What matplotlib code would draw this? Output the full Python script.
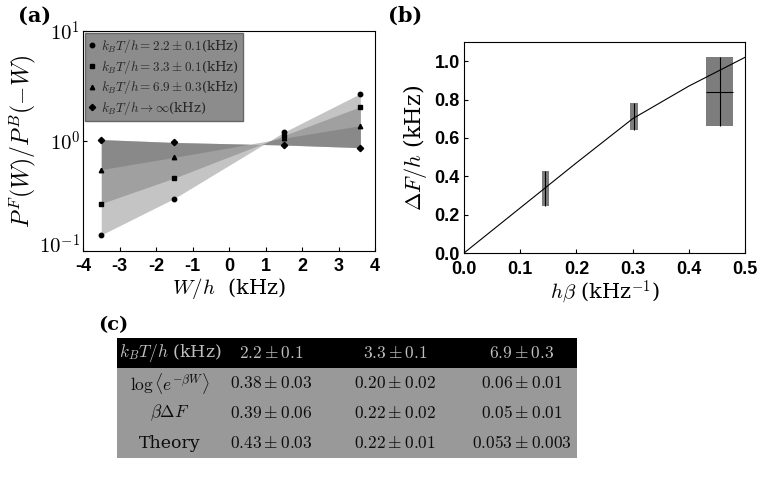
import matplotlib
matplotlib.use("Agg")
import matplotlib.pyplot as plt
import matplotlib.transforms as mtransforms
import numpy as np

plt.rcParams['mathtext.fontset'] = 'cm'
plt.rcParams['font.family'] = ['DejaVu Serif']

# ---------------- data: panel (a) ----------------
W = [-3.5, -1.5, 1.5, 3.6]
r_22 = [0.14, 0.30, 1.20, 2.70]
r_33 = [0.27, 0.46, 1.12, 2.05]
r_69 = [0.55, 0.71, 1.06, 1.38]
r_inf = [1.03, 0.97, 0.92, 0.87]
legend_labels = [r"$k_BT/h = 2.2 \pm 0.1$(kHz)",
                 r"$k_BT/h = 3.3 \pm 0.1$(kHz)",
                 r"$k_BT/h = 6.9 \pm 0.3$(kHz)",
                 r"$k_BT/h \to \infty$(kHz)"]
a_xticks = [-4, -3, -2, -1, 0, 1, 2, 3, 4]

# ---------------- data: panel (b) ----------------
hbeta = [0.145, 0.303, 0.455]
dF = [0.335, 0.71, 0.84]
dF_err = [0.09, 0.07, 0.18]
hbeta_err = [0.007, 0.007, 0.024]
theory_hbeta = [0.0, 0.1, 0.2, 0.3, 0.4, 0.5]
theory_dF = [0.0, 0.235, 0.47, 0.70, 0.87, 1.02]
b_xticks = [0.0, 0.1, 0.2, 0.3, 0.4, 0.5]
b_yticks = [0.0, 0.2, 0.4, 0.6, 0.8, 1.0]

# ---------------- data: table (c) ----------------
header = [r"$k_BT/h$ (kHz)", r"$2.2 \pm 0.1$", r"$3.3 \pm 0.1$", r"$6.9 \pm 0.3$"]
rows = [[r"$\log\langle e^{-\beta W}\rangle$", r"$0.38 \pm 0.03$", r"$0.20 \pm 0.02$", r"$0.06 \pm 0.01$"],
        [r"$\beta\Delta F$", r"$0.39 \pm 0.06$", r"$0.22 \pm 0.02$", r"$0.05 \pm 0.01$"],
        [r"Theory", r"$0.43 \pm 0.03$", r"$0.22 \pm 0.01$", r"$0.053 \pm 0.003$"]]

W_PX, H_PX = 765, 488
fig = plt.figure(figsize=(W_PX / 100, H_PX / 100), dpi=100)

def box(l, t, r, b):
    return [l / W_PX, 1 - b / H_PX, (r - l) / W_PX, (b - t) / H_PX]

tickfont = dict(family='Liberation Sans', weight='bold', size=13)

# ---------------- panel (a) ----------------
ax = fig.add_axes(box(83, 31, 375, 251))
ax.set_yscale('log')
series = [r_22, r_33, r_69]
for s in series:
    ax.fill_between(W, s, r_inf, color='0.4', alpha=0.38, lw=0)
markers = ['o', 's', '^', 'D']
handles = []
for s, m, lab in zip(series + [r_inf], markers, legend_labels):
    h, = ax.plot(W, s, ls='none', marker=m, ms=3.2, color='k', label=lab)
    handles.append(h)
ax.set_xlim(-4, 4)
ax.set_ylim(0.1, 10)
ax.set_xticks(a_xticks)
ax.set_xticklabels([str(t) for t in a_xticks], **tickfont)
ax.set_yticks([0.1, 1, 10])
ax.set_yticklabels([r"$10^{-1}$", r"$10^{0}$", r"$10^{1}$"], fontsize=15)
ax.yaxis.set_minor_locator(matplotlib.ticker.NullLocator())
ax.tick_params(direction='in', length=3, width=0.8)
ax.tick_params(axis='x', pad=5)
ax.tick_params(axis='y', pad=2)
lab0 = ax.yaxis.get_major_ticks()[0].label1
lab0.set_transform(lab0.get_transform() +
                   mtransforms.ScaledTranslation(0, 5 / 72, fig.dpi_scale_trans))
ax.set_xlabel(r"$W/h$  (kHz)", fontsize=15, labelpad=1)
ax.set_ylabel(r"$P^F(W)/P^B(-W)$", fontsize=17, labelpad=0)
leg = ax.legend(handles=handles, loc='upper left', fontsize=9.5, frameon=True,
                fancybox=False, borderpad=0.3, handlelength=0.5, handletextpad=0.4,
                labelspacing=0.2, borderaxespad=0.15, markerscale=1.0)
leg.get_frame().set_facecolor('0.55')
leg.get_frame().set_edgecolor('0.4')
leg.get_frame().set_alpha(1)
for t in leg.get_texts():
    t.set_color('0.15')
fig.text(18 / W_PX, 1 - 22 / H_PX, "(a)", fontsize=15, weight='bold', family='DejaVu Serif')

# ---------------- panel (b) ----------------
bx = fig.add_axes(box(464, 42, 745, 253))
bx.plot(theory_hbeta, theory_dF, color='k', lw=0.8)
bx.bar(hbeta, [2 * e for e in dF_err], bottom=[y - e for y, e in zip(dF, dF_err)],
       width=[2 * e for e in hbeta_err], color='0.4', alpha=0.85, lw=0)
bx.errorbar(hbeta, dF, yerr=dF_err, xerr=[0, 0, 0.024], fmt='none', ecolor='k',
            elinewidth=0.8, capsize=0)
bx.set_xlim(0, 0.5)
bx.set_ylim(0, 1.1)
bx.set_xticks(b_xticks)
bx.set_xticklabels([f"{t:.1f}" for t in b_xticks], **tickfont)
bx.set_yticks(b_yticks)
bx.set_yticklabels([f"{t:.1f}" for t in b_yticks], **tickfont)
bx.tick_params(direction='in', length=3, width=0.8)
bx.tick_params(axis='x', pad=6)
bx.tick_params(axis='y', pad=3)
bx.set_xlabel(r"$h\beta$ (kHz$^{-1}$)", fontsize=15, labelpad=0)
bx.set_ylabel(r"$\Delta F/h$ (kHz)", fontsize=16, labelpad=4)
fig.text(388 / W_PX, 1 - 22 / H_PX, "(b)", fontsize=15, weight='bold', family='DejaVu Serif')

# ---------------- table (c) ----------------
tx = fig.add_axes(box(117, 338, 577, 458))
tx.set_xlim(0, 1)
tx.set_ylim(0, 4)
tx.axis('off')
col_x = [0.115, 0.335, 0.605, 0.88]
tx.axhspan(3, 4, color='black', lw=0)
tx.axhspan(0, 3, color='0.6', lw=0)
for cx, txt in zip(col_x, header):
    tx.text(cx, 3.5, txt, ha='center', va='center', fontsize=12.5, color='0.75')
for i, row in enumerate(rows):
    y = 2.5 - i
    for cx, txt in zip(col_x, row):
        tx.text(cx, y, txt, ha='center', va='center', fontsize=12.5, color='0.05')
fig.text(98 / W_PX, 1 - 330 / H_PX, "(c)", fontsize=14, weight='bold', family='DejaVu Serif')

fig.savefig("out.png", dpi=100)
